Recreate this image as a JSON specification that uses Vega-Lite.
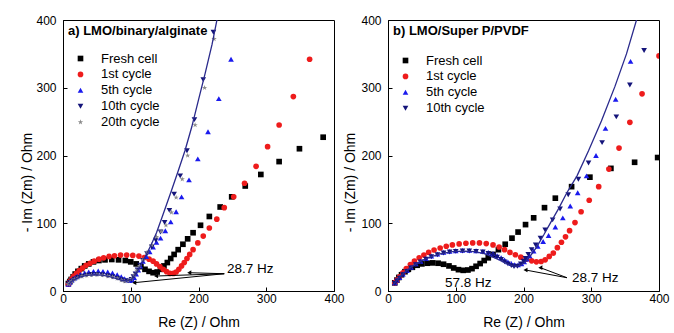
{
"$schema": "https://vega.github.io/schema/vega-lite/v6.json",
"padding": {"left": 20, "top": 13, "right": 5, "bottom": 0},
"spacing": -2,
"config": {
 "font": "Liberation Sans",
 "view": {"stroke": "#000", "strokeWidth": 1},
 "axis": {"grid": false, "tickSize": -4, "domainColor": "#000", "tickColor": "#000", "labelColor": "#000", "titleColor": "#000", "labelFontSize": 12, "titleFontSize": 14, "titleFontWeight": "normal", "labelFlush": false, "labelOverlap": false},
 "axisX": {"labelPadding": 6, "titlePadding": 11},
 "axisY": {"labelPadding": 11},
 "legend": {"orient": "top-left", "offset": 5, "padding": 0, "titleFontSize": 13, "titleFontWeight": "bold", "titleColor": "#000", "labelFontSize": 13, "labelColor": "#000", "titlePadding": 14, "rowPadding": 1.9, "symbolOffset": 6, "labelOffset": 14, "symbolSize": 32, "symbolStrokeWidth": 0, "titleLimit": 300}
},
"datasets": {
 "pa": [
  {"s":"Fresh cell","x":8,"y":11},{"s":"Fresh cell","x":10,"y":14},{"s":"Fresh cell","x":12,"y":17},{"s":"Fresh cell","x":15,"y":21},{"s":"Fresh cell","x":18,"y":25},{"s":"Fresh cell","x":22,"y":29},{"s":"Fresh cell","x":27,"y":33},{"s":"Fresh cell","x":32,"y":37},{"s":"Fresh cell","x":38,"y":40},{"s":"Fresh cell","x":45,"y":43},{"s":"Fresh cell","x":53,"y":45},{"s":"Fresh cell","x":62,"y":46},{"s":"Fresh cell","x":72,"y":46.5},{"s":"Fresh cell","x":82,"y":46},{"s":"Fresh cell","x":92,"y":45},{"s":"Fresh cell","x":100,"y":43},{"s":"Fresh cell","x":108,"y":40},{"s":"Fresh cell","x":115,"y":36},{"s":"Fresh cell","x":121,"y":32},{"s":"Fresh cell","x":127,"y":29},{"s":"Fresh cell","x":133,"y":27},{"s":"Fresh cell","x":139,"y":28},{"s":"Fresh cell","x":144,"y":32},{"s":"Fresh cell","x":149,"y":37},{"s":"Fresh cell","x":154,"y":42},{"s":"Fresh cell","x":159,"y":48},{"s":"Fresh cell","x":164,"y":54},{"s":"Fresh cell","x":170,"y":61},{"s":"Fresh cell","x":177,"y":69},{"s":"Fresh cell","x":184,"y":77},{"s":"Fresh cell","x":192,"y":86},{"s":"Fresh cell","x":203,"y":97},{"s":"Fresh cell","x":216,"y":110},{"s":"Fresh cell","x":232,"y":124},{"s":"Fresh cell","x":249,"y":139},{"s":"Fresh cell","x":269,"y":155},{"s":"Fresh cell","x":292,"y":172},{"s":"Fresh cell","x":319,"y":191},{"s":"Fresh cell","x":349,"y":210},{"s":"Fresh cell","x":384,"y":227},
  {"s":"1st cycle","x":8,"y":10},{"s":"1st cycle","x":10,"y":14},{"s":"1st cycle","x":13,"y":18},{"s":"1st cycle","x":16,"y":22},{"s":"1st cycle","x":20,"y":26},{"s":"1st cycle","x":24,"y":30},{"s":"1st cycle","x":29,"y":34},{"s":"1st cycle","x":34,"y":38},{"s":"1st cycle","x":40,"y":41},{"s":"1st cycle","x":46,"y":44},{"s":"1st cycle","x":53,"y":47},{"s":"1st cycle","x":60,"y":49},{"s":"1st cycle","x":68,"y":51},{"s":"1st cycle","x":76,"y":52},{"s":"1st cycle","x":85,"y":53},{"s":"1st cycle","x":94,"y":53},{"s":"1st cycle","x":103,"y":52.5},{"s":"1st cycle","x":112,"y":51.5},{"s":"1st cycle","x":120,"y":49.5},{"s":"1st cycle","x":127,"y":47},{"s":"1st cycle","x":133,"y":44},{"s":"1st cycle","x":138,"y":40},{"s":"1st cycle","x":143,"y":36},{"s":"1st cycle","x":148,"y":32},{"s":"1st cycle","x":153,"y":28.5},{"s":"1st cycle","x":158,"y":26},{"s":"1st cycle","x":163,"y":26},{"s":"1st cycle","x":167,"y":28},{"s":"1st cycle","x":171,"y":32},{"s":"1st cycle","x":175,"y":37},{"s":"1st cycle","x":179,"y":42},{"s":"1st cycle","x":183,"y":48},{"s":"1st cycle","x":187,"y":54},{"s":"1st cycle","x":192,"y":61},{"s":"1st cycle","x":199,"y":71},{"s":"1st cycle","x":207,"y":81},{"s":"1st cycle","x":216,"y":93},{"s":"1st cycle","x":227,"y":106},{"s":"1st cycle","x":238,"y":123},{"s":"1st cycle","x":252,"y":139},{"s":"1st cycle","x":268,"y":159},{"s":"1st cycle","x":285,"y":184},{"s":"1st cycle","x":302,"y":213},{"s":"1st cycle","x":319,"y":245},{"s":"1st cycle","x":340,"y":287},{"s":"1st cycle","x":364,"y":342},
  {"s":"5th cycle","x":8,"y":10},{"s":"5th cycle","x":10,"y":13},{"s":"5th cycle","x":13,"y":16},{"s":"5th cycle","x":17,"y":19},{"s":"5th cycle","x":21,"y":22},{"s":"5th cycle","x":26,"y":24.5},{"s":"5th cycle","x":32,"y":26.5},{"s":"5th cycle","x":38,"y":28},{"s":"5th cycle","x":45,"y":29},{"s":"5th cycle","x":52,"y":29.5},{"s":"5th cycle","x":59,"y":29},{"s":"5th cycle","x":66,"y":28},{"s":"5th cycle","x":73,"y":26.5},{"s":"5th cycle","x":80,"y":24},{"s":"5th cycle","x":86,"y":21},{"s":"5th cycle","x":91,"y":18},{"s":"5th cycle","x":95,"y":16},{"s":"5th cycle","x":99,"y":15.5},{"s":"5th cycle","x":102,"y":17},{"s":"5th cycle","x":105,"y":20},{"s":"5th cycle","x":108,"y":25},{"s":"5th cycle","x":111,"y":31},{"s":"5th cycle","x":114,"y":37},{"s":"5th cycle","x":118,"y":44},{"s":"5th cycle","x":123,"y":51},{"s":"5th cycle","x":128,"y":58},{"s":"5th cycle","x":133,"y":65},{"s":"5th cycle","x":138,"y":72},{"s":"5th cycle","x":144,"y":78},{"s":"5th cycle","x":151,"y":89},{"s":"5th cycle","x":159,"y":102},{"s":"5th cycle","x":167,"y":117},{"s":"5th cycle","x":175,"y":139},{"s":"5th cycle","x":186,"y":164},{"s":"5th cycle","x":199,"y":195},{"s":"5th cycle","x":214,"y":235},{"s":"5th cycle","x":230,"y":284},{"s":"5th cycle","x":248,"y":342},
  {"s":"10th cycle","x":8,"y":10},{"s":"10th cycle","x":10,"y":12.5},{"s":"10th cycle","x":13,"y":15},{"s":"10th cycle","x":17,"y":17.5},{"s":"10th cycle","x":22,"y":20},{"s":"10th cycle","x":28,"y":22},{"s":"10th cycle","x":35,"y":23.5},{"s":"10th cycle","x":42,"y":24.3},{"s":"10th cycle","x":50,"y":24.5},{"s":"10th cycle","x":58,"y":24},{"s":"10th cycle","x":66,"y":22.5},{"s":"10th cycle","x":73,"y":21},{"s":"10th cycle","x":80,"y":19},{"s":"10th cycle","x":86,"y":16.5},{"s":"10th cycle","x":91,"y":15},{"s":"10th cycle","x":96,"y":15},{"s":"10th cycle","x":101,"y":17},{"s":"10th cycle","x":104,"y":21},{"s":"10th cycle","x":107,"y":25},{"s":"10th cycle","x":110,"y":31},{"s":"10th cycle","x":114,"y":38},{"s":"10th cycle","x":118,"y":45},{"s":"10th cycle","x":124,"y":55},{"s":"10th cycle","x":131,"y":65},{"s":"10th cycle","x":137,"y":75},{"s":"10th cycle","x":144,"y":87},{"s":"10th cycle","x":150,"y":101},{"s":"10th cycle","x":157,"y":119},{"s":"10th cycle","x":164,"y":143},{"s":"10th cycle","x":173,"y":170},{"s":"10th cycle","x":183,"y":207},{"s":"10th cycle","x":194,"y":253},{"s":"10th cycle","x":207,"y":312},{"s":"10th cycle","x":222,"y":382},
  {"s":"20th cycle","x":8,"y":10},{"s":"20th cycle","x":10,"y":12},{"s":"20th cycle","x":13,"y":14.5},{"s":"20th cycle","x":17,"y":17},{"s":"20th cycle","x":22,"y":19.5},{"s":"20th cycle","x":28,"y":21.5},{"s":"20th cycle","x":35,"y":23},{"s":"20th cycle","x":42,"y":23.8},{"s":"20th cycle","x":50,"y":24},{"s":"20th cycle","x":58,"y":23.5},{"s":"20th cycle","x":66,"y":22},{"s":"20th cycle","x":73,"y":20.5},{"s":"20th cycle","x":80,"y":18.5},{"s":"20th cycle","x":86,"y":16},{"s":"20th cycle","x":91,"y":14.5},{"s":"20th cycle","x":96,"y":15},{"s":"20th cycle","x":101,"y":18},{"s":"20th cycle","x":105,"y":23},{"s":"20th cycle","x":109,"y":30},{"s":"20th cycle","x":113,"y":37},{"s":"20th cycle","x":118,"y":46},{"s":"20th cycle","x":124,"y":57},{"s":"20th cycle","x":131,"y":68},{"s":"20th cycle","x":138,"y":80},{"s":"20th cycle","x":145,"y":88},{"s":"20th cycle","x":152,"y":97},{"s":"20th cycle","x":160,"y":116},{"s":"20th cycle","x":167,"y":138},{"s":"20th cycle","x":176,"y":165},{"s":"20th cycle","x":184,"y":200},{"s":"20th cycle","x":195,"y":245},{"s":"20th cycle","x":209,"y":300},{"s":"20th cycle","x":223,"y":372}
 ],
 "pb": [
  {"s":"Fresh cell","x":10,"y":12},{"s":"Fresh cell","x":13,"y":16},{"s":"Fresh cell","x":16,"y":20},{"s":"Fresh cell","x":20,"y":24},{"s":"Fresh cell","x":25,"y":28.5},{"s":"Fresh cell","x":30,"y":32},{"s":"Fresh cell","x":36,"y":35},{"s":"Fresh cell","x":43,"y":38},{"s":"Fresh cell","x":50,"y":40},{"s":"Fresh cell","x":58,"y":41},{"s":"Fresh cell","x":66,"y":41.5},{"s":"Fresh cell","x":74,"y":41},{"s":"Fresh cell","x":82,"y":39.5},{"s":"Fresh cell","x":90,"y":37},{"s":"Fresh cell","x":97,"y":34},{"s":"Fresh cell","x":104,"y":31.5},{"s":"Fresh cell","x":111,"y":30.5},{"s":"Fresh cell","x":118,"y":31},{"s":"Fresh cell","x":124,"y":33},{"s":"Fresh cell","x":130,"y":36.5},{"s":"Fresh cell","x":136,"y":40.5},{"s":"Fresh cell","x":142,"y":45},{"s":"Fresh cell","x":148,"y":49},{"s":"Fresh cell","x":155,"y":54},{"s":"Fresh cell","x":163,"y":61},{"s":"Fresh cell","x":173,"y":69},{"s":"Fresh cell","x":183,"y":78},{"s":"Fresh cell","x":192,"y":87},{"s":"Fresh cell","x":203,"y":98},{"s":"Fresh cell","x":215,"y":108},{"s":"Fresh cell","x":231,"y":123},{"s":"Fresh cell","x":247,"y":137},{"s":"Fresh cell","x":271,"y":154},{"s":"Fresh cell","x":298,"y":168},{"s":"Fresh cell","x":329,"y":181},{"s":"Fresh cell","x":364,"y":190},{"s":"Fresh cell","x":398,"y":197},
  {"s":"1st cycle","x":10,"y":12},{"s":"1st cycle","x":13,"y":16},{"s":"1st cycle","x":17,"y":21},{"s":"1st cycle","x":22,"y":27},{"s":"1st cycle","x":27,"y":33},{"s":"1st cycle","x":33,"y":39},{"s":"1st cycle","x":39,"y":44},{"s":"1st cycle","x":46,"y":49},{"s":"1st cycle","x":53,"y":53},{"s":"1st cycle","x":60,"y":57},{"s":"1st cycle","x":68,"y":60.5},{"s":"1st cycle","x":77,"y":63.5},{"s":"1st cycle","x":86,"y":66},{"s":"1st cycle","x":95,"y":68},{"s":"1st cycle","x":105,"y":69.5},{"s":"1st cycle","x":115,"y":70.5},{"s":"1st cycle","x":125,"y":71},{"s":"1st cycle","x":135,"y":71},{"s":"1st cycle","x":145,"y":70},{"s":"1st cycle","x":155,"y":68},{"s":"1st cycle","x":164,"y":65},{"s":"1st cycle","x":172,"y":61},{"s":"1st cycle","x":180,"y":57},{"s":"1st cycle","x":188,"y":53.5},{"s":"1st cycle","x":196,"y":50},{"s":"1st cycle","x":204,"y":47},{"s":"1st cycle","x":212,"y":44.5},{"s":"1st cycle","x":219,"y":43},{"s":"1st cycle","x":226,"y":43.5},{"s":"1st cycle","x":232,"y":46},{"s":"1st cycle","x":238,"y":51},{"s":"1st cycle","x":244,"y":56},{"s":"1st cycle","x":250,"y":64},{"s":"1st cycle","x":256,"y":72},{"s":"1st cycle","x":262,"y":80},{"s":"1st cycle","x":268,"y":89},{"s":"1st cycle","x":276,"y":101},{"s":"1st cycle","x":285,"y":117},{"s":"1st cycle","x":297,"y":134},{"s":"1st cycle","x":311,"y":154},{"s":"1st cycle","x":326,"y":180},{"s":"1st cycle","x":341,"y":211},{"s":"1st cycle","x":357,"y":249},{"s":"1st cycle","x":375,"y":291},{"s":"1st cycle","x":400,"y":347},
  {"s":"5th cycle","x":10,"y":12},{"s":"5th cycle","x":13,"y":16},{"s":"5th cycle","x":17,"y":20},{"s":"5th cycle","x":22,"y":25},{"s":"5th cycle","x":28,"y":30},{"s":"5th cycle","x":34,"y":35},{"s":"5th cycle","x":41,"y":40},{"s":"5th cycle","x":48,"y":44},{"s":"5th cycle","x":56,"y":48},{"s":"5th cycle","x":64,"y":51.5},{"s":"5th cycle","x":73,"y":54.5},{"s":"5th cycle","x":82,"y":57},{"s":"5th cycle","x":91,"y":58.5},{"s":"5th cycle","x":100,"y":59.5},{"s":"5th cycle","x":110,"y":60},{"s":"5th cycle","x":120,"y":60},{"s":"5th cycle","x":130,"y":59.5},{"s":"5th cycle","x":140,"y":58.5},{"s":"5th cycle","x":148,"y":57},{"s":"5th cycle","x":155,"y":55},{"s":"5th cycle","x":161,"y":52},{"s":"5th cycle","x":167,"y":49},{"s":"5th cycle","x":172,"y":46},{"s":"5th cycle","x":177,"y":43},{"s":"5th cycle","x":182,"y":40.5},{"s":"5th cycle","x":187,"y":39},{"s":"5th cycle","x":192,"y":38.5},{"s":"5th cycle","x":197,"y":40},{"s":"5th cycle","x":201,"y":43},{"s":"5th cycle","x":205,"y":47},{"s":"5th cycle","x":209,"y":52},{"s":"5th cycle","x":215,"y":59},{"s":"5th cycle","x":221,"y":66},{"s":"5th cycle","x":229,"y":73},{"s":"5th cycle","x":237,"y":82},{"s":"5th cycle","x":247,"y":94.5},{"s":"5th cycle","x":258,"y":108},{"s":"5th cycle","x":269,"y":125.5},{"s":"5th cycle","x":280,"y":145},{"s":"5th cycle","x":293,"y":170},{"s":"5th cycle","x":307,"y":200},{"s":"5th cycle","x":321,"y":240},{"s":"5th cycle","x":336,"y":283},{"s":"5th cycle","x":358,"y":339},
  {"s":"10th cycle","x":10,"y":11},{"s":"10th cycle","x":13,"y":15},{"s":"10th cycle","x":17,"y":19},{"s":"10th cycle","x":22,"y":24},{"s":"10th cycle","x":28,"y":29},{"s":"10th cycle","x":34,"y":34},{"s":"10th cycle","x":41,"y":39},{"s":"10th cycle","x":48,"y":43},{"s":"10th cycle","x":56,"y":47},{"s":"10th cycle","x":64,"y":50.5},{"s":"10th cycle","x":73,"y":53.5},{"s":"10th cycle","x":82,"y":56},{"s":"10th cycle","x":91,"y":57.5},{"s":"10th cycle","x":100,"y":58.5},{"s":"10th cycle","x":110,"y":59},{"s":"10th cycle","x":120,"y":59},{"s":"10th cycle","x":130,"y":58.5},{"s":"10th cycle","x":140,"y":57.5},{"s":"10th cycle","x":148,"y":55.5},{"s":"10th cycle","x":155,"y":53},{"s":"10th cycle","x":161,"y":50},{"s":"10th cycle","x":167,"y":46.5},{"s":"10th cycle","x":172,"y":43},{"s":"10th cycle","x":177,"y":40},{"s":"10th cycle","x":182,"y":37.5},{"s":"10th cycle","x":186,"y":36},{"s":"10th cycle","x":191,"y":36.5},{"s":"10th cycle","x":196,"y":40},{"s":"10th cycle","x":200,"y":44},{"s":"10th cycle","x":203,"y":48},{"s":"10th cycle","x":207,"y":54},{"s":"10th cycle","x":212,"y":61},{"s":"10th cycle","x":218,"y":68},{"s":"10th cycle","x":225,"y":78},{"s":"10th cycle","x":232,"y":90},{"s":"10th cycle","x":243,"y":105},{"s":"10th cycle","x":254,"y":121},{"s":"10th cycle","x":266,"y":142},{"s":"10th cycle","x":281,"y":165},{"s":"10th cycle","x":296,"y":189},{"s":"10th cycle","x":316,"y":219},{"s":"10th cycle","x":337,"y":257},{"s":"10th cycle","x":357,"y":304},{"s":"10th cycle","x":378,"y":355}
 ],
 "fa": [
  {"x":8,"y":10},{"x":15,"y":16},{"x":25,"y":20.5},{"x":35,"y":23},{"x":46,"y":24},{"x":58,"y":23.5},{"x":70,"y":21},{"x":80,"y":18},{"x":88,"y":15.5},{"x":95,"y":15},{"x":101,"y":17},{"x":107,"y":25},{"x":115,"y":38},{"x":122,"y":52},{"x":130,"y":68},{"x":138,"y":86},{"x":147,"y":111},{"x":160,"y":148},{"x":170,"y":177},{"x":180,"y":207},{"x":190,"y":242},{"x":200,"y":282},{"x":210,"y":322},{"x":220,"y":364},{"x":228,"y":404}
 ],
 "fb": [
  {"x":8,"y":10},{"x":15,"y":18},{"x":25,"y":28},{"x":35,"y":36},{"x":48,"y":44},{"x":62,"y":50},{"x":78,"y":55},{"x":95,"y":58},{"x":112,"y":59},{"x":128,"y":58},{"x":142,"y":55},{"x":155,"y":50},{"x":166,"y":45},{"x":176,"y":40},{"x":184,"y":37},{"x":190,"y":36.5},{"x":196,"y":38},{"x":202,"y":42},{"x":208,"y":49},{"x":214,"y":57},{"x":220,"y":66},{"x":230,"y":83},{"x":240,"y":101},{"x":252,"y":122},{"x":264,"y":145},{"x":279,"y":170},{"x":296,"y":207},{"x":315,"y":251},{"x":335,"y":302},{"x":352,"y":350},{"x":368,"y":404}
 ],
 "aa": [
  {"x":238,"y":25.5,"x2":186.4,"y2":27},{"x":238,"y":25.5,"x2":137.3,"y2":22.1},{"x":238,"y":25.5,"x2":105.2,"y2":12.3}
 ],
 "ab": [
  {"x":264.2,"y":19.6,"x2":202.9,"y2":31},{"x":264.2,"y":19.6,"x2":224.9,"y2":34.4}
 ],
 "ta": [{"x":242,"y":32,"t":"28.7 Hz"}],
 "tb": [{"x":271.5,"y":19.6,"t":"28.7 Hz"},{"x":84,"y":11.8,"t":"57.8 Hz"}]
},
"hconcat": [
 {
  "width": 271, "height": 271,
  "layer": [
   {"data": {"name": "pa"}, "mark": {"type": "point", "filled": true, "size": 32, "opacity": 1, "clip": true},
    "encoding": {
     "x": {"field": "x", "type": "quantitative", "scale": {"domain": [0, 400], "nice": false}, "title": "Re (Z) / Ohm", "axis": {"values": [0,50,100,150,200,250,300,350,400], "labelExpr": "datum.value % 100 === 0 ? datum.label : ''"}},
     "y": {"field": "y", "type": "quantitative", "scale": {"domain": [0, 400], "nice": false}, "title": "- Im (Zm) / Ohm", "axis": {"values": [0,50,100,150,200,250,300,350,400], "labelExpr": "datum.value % 100 === 0 ? datum.label : ''", "titlePadding": 1, "titleY": 162}},
     "color": {"field": "s", "type": "nominal", "scale": {"domain": ["Fresh cell","1st cycle","5th cycle","10th cycle","20th cycle"], "range": ["#000000","#ee1c1c","#1a1aee","#14147a","#8a8a8a"]}, "legend": {"title": "a) LMO/binary/alginate"}},
     "shape": {"field": "s", "type": "nominal", "scale": {"domain": ["Fresh cell","1st cycle","5th cycle","10th cycle","20th cycle"], "range": ["square","circle","triangle-up","triangle-down","M0,-1L0.225,-0.309L0.951,-0.309L0.363,0.118L0.588,0.809L0,0.382L-0.588,0.809L-0.363,0.118L-0.951,-0.309L-0.225,-0.309Z"]}, "legend": {"title": "a) LMO/binary/alginate"}}
    }},
   {"data": {"name": "fa"}, "mark": {"type": "line", "color": "#2a2a8c", "strokeWidth": 1.3, "clip": true},
    "encoding": {"x": {"field": "x", "type": "quantitative", "scale": {"domain": [0, 400], "nice": false}, "title": "Re (Z) / Ohm"},
                 "y": {"field": "y", "type": "quantitative", "scale": {"domain": [0, 400], "nice": false}, "title": "- Im (Zm) / Ohm"}}},
   {"data": {"name": "aa"}, "mark": {"type": "rule", "color": "#000", "strokeWidth": 1},
    "encoding": {"x": {"field": "x", "type": "quantitative", "scale": {"domain": [0, 400], "nice": false}, "title": "Re (Z) / Ohm"},
                 "y": {"field": "y", "type": "quantitative", "scale": {"domain": [0, 400], "nice": false}, "title": "- Im (Zm) / Ohm"},
                 "x2": {"field": "x2"}, "y2": {"field": "y2"}}},
   {"data": {"name": "aa"}, "mark": {"type": "point", "shape": "triangle-left", "filled": true, "color": "#000", "size": 22, "opacity": 1},
    "encoding": {"x": {"field": "x2", "type": "quantitative", "scale": {"domain": [0, 400], "nice": false}, "title": "Re (Z) / Ohm"},
                 "y": {"field": "y2", "type": "quantitative", "scale": {"domain": [0, 400], "nice": false}, "title": "- Im (Zm) / Ohm"}}},
   {"data": {"name": "ta"}, "mark": {"type": "text", "align": "left", "baseline": "middle", "fontSize": 13.5, "color": "#000"},
    "encoding": {"x": {"field": "x", "type": "quantitative", "scale": {"domain": [0, 400], "nice": false}, "title": "Re (Z) / Ohm"},
                 "y": {"field": "y", "type": "quantitative", "scale": {"domain": [0, 400], "nice": false}, "title": "- Im (Zm) / Ohm"},
                 "text": {"field": "t"}}}
  ]
 },
 {
  "width": 271, "height": 271,
  "layer": [
   {"data": {"name": "pb"}, "mark": {"type": "point", "filled": true, "size": 32, "opacity": 1, "clip": true},
    "encoding": {
     "x": {"field": "x", "type": "quantitative", "scale": {"domain": [0, 400], "nice": false}, "title": "Re (Z) / Ohm", "axis": {"values": [0,50,100,150,200,250,300,350,400], "labelExpr": "datum.value % 100 === 0 ? datum.label : ''"}},
     "y": {"field": "y", "type": "quantitative", "scale": {"domain": [0, 400], "nice": false}, "title": "- Im (Zm) / Ohm", "axis": {"values": [0,50,100,150,200,250,300,350,400], "labelExpr": "datum.value % 100 === 0 ? datum.label : ''", "titlePadding": 3, "titleY": 162}},
     "color": {"field": "s", "type": "nominal", "scale": {"domain": ["Fresh cell","1st cycle","5th cycle","10th cycle"], "range": ["#000000","#ee1c1c","#1a1aee","#14147a"]}, "legend": {"title": "b) LMO/Super P/PVDF", "titlePadding": 16}},
     "shape": {"field": "s", "type": "nominal", "scale": {"domain": ["Fresh cell","1st cycle","5th cycle","10th cycle"], "range": ["square","circle","triangle-up","triangle-down"]}, "legend": {"title": "b) LMO/Super P/PVDF", "titlePadding": 16}}
    }},
   {"data": {"name": "fb"}, "mark": {"type": "line", "color": "#2a2a8c", "strokeWidth": 1.3, "clip": true},
    "encoding": {"x": {"field": "x", "type": "quantitative", "scale": {"domain": [0, 400], "nice": false}, "title": "Re (Z) / Ohm"},
                 "y": {"field": "y", "type": "quantitative", "scale": {"domain": [0, 400], "nice": false}, "title": "- Im (Zm) / Ohm"}}},
   {"data": {"name": "ab"}, "mark": {"type": "rule", "color": "#000", "strokeWidth": 1},
    "encoding": {"x": {"field": "x", "type": "quantitative", "scale": {"domain": [0, 400], "nice": false}, "title": "Re (Z) / Ohm"},
                 "y": {"field": "y", "type": "quantitative", "scale": {"domain": [0, 400], "nice": false}, "title": "- Im (Zm) / Ohm"},
                 "x2": {"field": "x2"}, "y2": {"field": "y2"}}},
   {"data": {"name": "ab"}, "mark": {"type": "point", "shape": "triangle-left", "filled": true, "color": "#000", "size": 22, "opacity": 1},
    "encoding": {"x": {"field": "x2", "type": "quantitative", "scale": {"domain": [0, 400], "nice": false}, "title": "Re (Z) / Ohm"},
                 "y": {"field": "y2", "type": "quantitative", "scale": {"domain": [0, 400], "nice": false}, "title": "- Im (Zm) / Ohm"}}},
   {"data": {"name": "tb"}, "mark": {"type": "text", "align": "left", "baseline": "middle", "fontSize": 13.5, "color": "#000"},
    "encoding": {"x": {"field": "x", "type": "quantitative", "scale": {"domain": [0, 400], "nice": false}, "title": "Re (Z) / Ohm"},
                 "y": {"field": "y", "type": "quantitative", "scale": {"domain": [0, 400], "nice": false}, "title": "- Im (Zm) / Ohm"},
                 "text": {"field": "t"}}}
  ]
 }
],
"resolve": {"scale": {"color": "independent", "shape": "independent"}}
}
